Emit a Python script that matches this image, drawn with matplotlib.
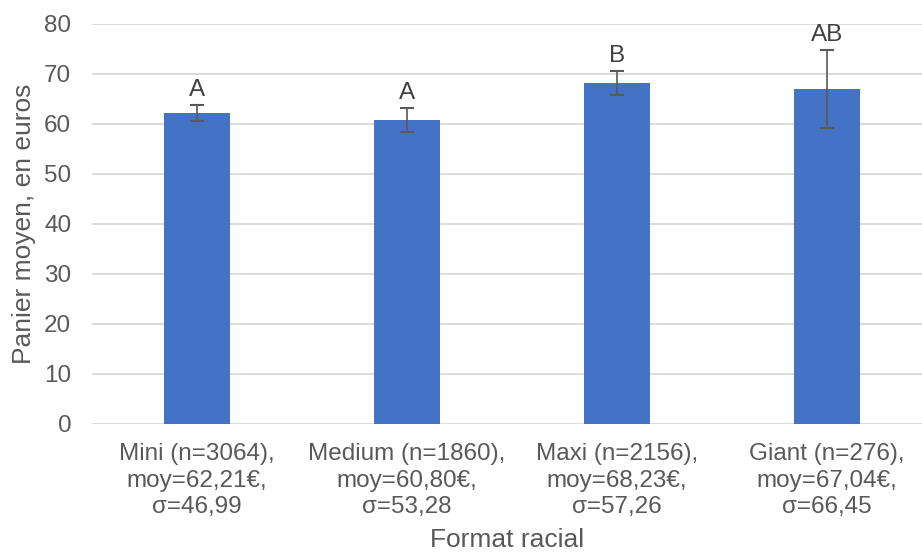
import matplotlib
matplotlib.use("Agg")
import matplotlib.pyplot as plt

categories = ["Mini (n=3064),\nmoy=62,21€,\nσ=46,99",
              "Medium (n=1860),\nmoy=60,80€,\nσ=53,28",
              "Maxi (n=2156),\nmoy=68,23€,\nσ=57,26",
              "Giant (n=276),\nmoy=67,04€,\nσ=66,45"]
means = [62.21, 60.80, 68.23, 67.04]
errors = [1.66, 2.42, 2.42, 7.84]
letters = ["A", "A", "B", "AB"]
yticks = [0, 10, 20, 30, 40, 50, 60, 70, 80]

plt.rcParams['font.family'] = ['Liberation Sans', 'DejaVu Sans']

W, H = 922, 553
fig = plt.figure(figsize=(W/100, H/100), dpi=100)
left, right, top, bottom = 92, 922, 24, 424
ax = fig.add_axes([left/W, 1-bottom/H, (right-left)/W, (bottom-top)/H])

x = list(range(len(categories)))
ax.bar(x, means, width=0.31, color='#4472C4', zorder=3)
ax.errorbar(x, means, yerr=errors, fmt='none', ecolor='#595959',
            elinewidth=1.2, capsize=4.7, capthick=1.5, zorder=4)
for xi, m, e, l in zip(x, means, errors, letters):
    ax.text(xi, m + e + 0.8, l, ha='center', va='bottom', fontsize=17.5, color='#404040')

ax.set_xlim(-0.5, 3.5 - 10/210)
ax.set_ylim(0, 80)
ax.set_yticks(yticks)
ax.yaxis.grid(True, color='#D9D9D9', linewidth=1.3, zorder=0)
ax.set_axisbelow(True)
for s in ax.spines.values():
    s.set_visible(False)
ax.tick_params(axis='both', length=0, labelsize=17.5, colors='#595959')
ax.tick_params(axis='y', pad=15)
ax.tick_params(axis='x', pad=14)
ax.set_xticks(x)
ax.set_xticklabels(categories, linespacing=1.25)
ax.set_ylabel("Panier moyen, en euros", fontsize=19, color='#595959', labelpad=6)
ax.set_xlabel("Format racial", fontsize=19, color='#595959', labelpad=7)

fig.savefig("out.png", dpi=100)
